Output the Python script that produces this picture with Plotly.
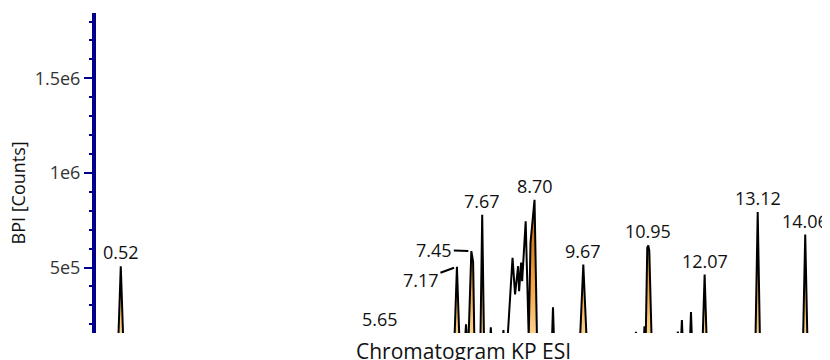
import plotly.graph_objects as go

# Retention time (min) and base peak intensity (counts)
rt = [0.0, 0.46, 0.52, 0.58, 5.60, 5.65, 5.70, 7.11, 7.17, 7.23, 7.31, 7.35, 7.39,
      7.455, 7.49, 7.52, 7.63, 7.67, 7.71, 7.81, 7.84, 7.87, 8.06, 8.09, 8.12, 8.15,
      8.27, 8.32, 8.38, 8.40, 8.44, 8.46, 8.53, 8.59, 8.625, 8.705, 8.76, 9.04, 9.07,
      9.10, 9.59, 9.67, 9.75, 10.68, 10.71, 10.74, 10.85, 10.88, 10.90, 10.935, 10.955,
      10.975, 11.03, 11.51, 11.54, 11.57, 11.59, 11.62, 11.65, 11.77, 11.80, 11.83,
      12.02, 12.07, 12.12, 13.07, 13.12, 13.17, 14.01, 14.06, 14.11, 14.6]
bpi = [3e4, 3e4, 5.07e5, 3e4, 3e4, 1.37e5, 3e4, 3e4, 5.04e5, 3e4, 3e4, 2.0e5, 4e4,
       5.87e5, 5.3e5, 3e4, 3e4, 7.79e5, 3e4, 3e4, 1.84e5, 3e4, 3e4, 1.7e5, 3e4, 3e4,
       5.51e5, 3.58e5, 5.07e5, 3.75e5, 5.26e5, 4.28e5, 7.44e5, 1.3e5, 6.3e5, 8.58e5, 3e4, 3e4, 2.9e5,
       3e4, 3e4, 5.16e5, 3e4, 3e4, 1.6e5, 3e4, 3e4, 1.9e5, 5e4, 6.05e5, 6.17e5,
       5.9e5, 3e4, 3e4, 1.62e5, 3e4, 3e4, 2.23e5, 3e4, 3e4, 2.65e5, 3e4,
       3e4, 4.63e5, 3e4, 3e4, 7.93e5, 3e4, 3e4, 6.74e5, 3e4, 3e4]

# Integrated (filled) peak windows, min
peak_start = [0.46, 5.60, 7.11, 7.31, 7.39, 7.63, 8.59, 9.59, 10.90, 12.02, 13.07, 14.01]
peak_end = [0.58, 5.70, 7.23, 7.39, 7.52, 7.71, 8.76, 9.75, 11.03, 12.12, 13.17, 14.11]

# Peak labels
label_rt = [0.52, 5.65, 7.17, 7.455, 7.67, 8.705, 9.67, 10.955, 12.07, 13.12, 14.06]
label_text = ["0.52", "5.65", "7.17", "7.45", "7.67", "8.70", "9.67", "10.95", "12.07", "13.12", "14.06"]

y_tick_vals = [5e5, 1e6, 1.5e6]
y_tick_text = ["5e5", "1e6", "1.5e6"]

Y_LO, Y_HI = 1.54e5, 1.845e6
FONT = "Open Sans"
AXIS_BLUE = "#00008b"

fig = go.Figure()

for s, e in zip(peak_start, peak_end):
    xs = [t for t in rt if s <= t <= e]
    ys = [v for t, v in zip(rt, bpi) if s <= t <= e]
    fig.add_trace(go.Scatter(
        x=xs, y=ys, mode="lines", line=dict(width=0), fill="tozeroy",
        fillgradient=dict(type="vertical",
                          colorscale=[[0, "#fbd08c"], [0.4, "#f2a23a"], [1, "#b45c0a"]],
                          start=Y_LO, stop=8.6e5),
        hoverinfo="skip", showlegend=False))

fig.add_trace(go.Scatter(x=rt, y=bpi, mode="lines",
                         line=dict(color="black", width=2), showlegend=False))

annotations = []
for t, txt in zip(label_rt, label_text):
    v = bpi[rt.index(t)]
    if txt == "7.17":
        annotations.append(dict(x=t, y=v, text=txt, showarrow=True, arrowhead=0,
                                arrowwidth=2, arrowcolor="black", ax=-36, ay=13,
                                standoff=3, font=dict(size=18, color="#111", family=FONT)))
    elif txt == "7.45":
        annotations.append(dict(x=t, y=v, text=txt, showarrow=True, arrowhead=0,
                                arrowwidth=2, arrowcolor="black", ax=-37, ay=-1,
                                standoff=3, font=dict(size=18, color="#111", family=FONT)))
    else:
        annotations.append(dict(x=t, y=max(v, Y_LO * 1.01), text=txt, showarrow=False,
                                yanchor="bottom", xanchor="center",
                                font=dict(size=18, color="#111", family=FONT)))

# plot area: 734 x 320 px
annotations.append(dict(text="Chromatogram KP ESI", xref="paper", yref="paper",
                        x=0.5, y=0, yanchor="top", yshift=-2, showarrow=False,
                        font=dict(size=21, color="#111", family=FONT)))
annotations.append(dict(text="BPI [Counts]", xref="paper", yref="paper",
                        x=-0.1063, y=0.439, textangle=-90, showarrow=False,
                        xanchor="center", yanchor="middle",
                        font=dict(size=18, color="#111", family=FONT)))

fig.update_layout(
    width=822, height=352,
    margin=dict(l=88, r=0, t=5, b=27),
    paper_bgcolor="white", plot_bgcolor="white",
    font=dict(family=FONT, size=18, color="#222"),
    annotations=annotations,
    xaxis=dict(range=[0.03, 14.55], showline=False, showticklabels=False, ticks="",
               showgrid=False, zeroline=False, automargin=False),
    yaxis=dict(range=[Y_LO, Y_HI], showline=True, linecolor=AXIS_BLUE, linewidth=4,
               ticks="outside", ticklen=8, tickwidth=2, tickcolor=AXIS_BLUE,
               tickmode="array", tickvals=y_tick_vals, ticktext=y_tick_text,
               tickfont=dict(size=18, color="#333", family=FONT),
               minor=dict(ticks="outside", ticklen=3, tickwidth=2, tickcolor=AXIS_BLUE,
                          tickmode="linear", tick0=0, dtick=1e5),
               showgrid=False, zeroline=False, automargin=False),
)

fig.write_html("out.html")
